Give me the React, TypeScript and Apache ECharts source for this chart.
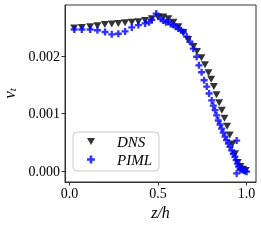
import React, { useEffect, useRef } from "react";
import * as echarts from "echarts";

const dnsZ = [0.027, 0.07, 0.117, 0.158, 0.2, 0.239, 0.276, 0.314, 0.352, 0.389, 0.427, 0.465, 0.5, 0.53, 0.558, 0.587, 0.615, 0.643, 0.67, 0.7, 0.72, 0.745, 0.765, 0.785, 0.8, 0.815, 0.83, 0.845, 0.86, 0.875, 0.89, 0.905, 0.92, 0.935, 0.95, 0.965, 0.98, 0.995];
const dnsNu = [0.00249, 0.0025, 0.00251, 0.00253, 0.00255, 0.00256, 0.00257, 0.00258, 0.00259, 0.0026, 0.00262, 0.00265, 0.00268, 0.00268, 0.00265, 0.00259, 0.00251, 0.00241, 0.00229, 0.00217, 0.00208, 0.00197, 0.00185, 0.00171, 0.0016, 0.00147, 0.00133, 0.00119, 0.00106, 0.00092, 0.00078, 0.00063, 0.00047, 0.0003, 0.00015, 0.00008, 0.00003, 0.00001];

const pimlZ = [0.027, 0.07, 0.117, 0.158, 0.201, 0.239, 0.276, 0.314, 0.352, 0.389, 0.427, 0.45, 0.465, 0.49, 0.515, 0.53, 0.545, 0.558, 0.572, 0.587, 0.6, 0.615, 0.63, 0.643, 0.662, 0.68, 0.699, 0.718, 0.731, 0.746, 0.76, 0.775, 0.788, 0.803, 0.812, 0.822, 0.831, 0.84, 0.85, 0.859, 0.868, 0.878, 0.887, 0.897, 0.906, 0.916, 0.925, 0.934, 0.941, 0.948, 0.955, 0.963, 0.944, 0.944, 0.97, 0.98, 0.99, 1.0, 0.985];
const pimlNu = [0.002464, 0.002464, 0.002464, 0.00245, 0.00242, 0.00238, 0.00239, 0.00243, 0.0025, 0.00254, 0.00257, 0.00259, 0.00263, 0.00274, 0.00265, 0.00262, 0.00259, 0.0026, 0.00256, 0.00254, 0.00251, 0.00248, 0.00245, 0.00242, 0.00234, 0.00225, 0.00213, 0.00199, 0.00184, 0.00172, 0.00158, 0.00147, 0.00135, 0.00123, 0.00114, 0.00106, 0.00097, 0.00088, 0.00081, 0.00074, 0.00067, 0.0006, 0.00054, 0.00048, 0.00042, 0.00036, 0.0003, 0.00025, 0.00019, 0.00013, 0.00008, 0.00004, 0.00053, -0.00004, 0.00002, 0.00003, 0.0, -0.00001, 0.00001];

const xTicks = [0, 0.5, 1.0];
const yTicks = [0, 0.001, 0.002];

const PLUS = "path://M-1,-3L1,-3L1,-1L3,-1L3,1L1,1L1,3L-1,3L-1,1L-3,1L-3,-1L-1,-1Z";
const TRI_DOWN = "path://M0,0L10,0L5,8.66Z";
const SERIF = "'Liberation Serif', 'DejaVu Serif', serif";

export default function App() {
  const ref = useRef<HTMLDivElement>(null);
  useEffect(() => {
    if (!ref.current) return;
    const chart = echarts.init(ref.current, undefined, { renderer: "svg" });
    chart.setOption({
      animation: false,
      grid: {
        left: 65,
        right: 5,
        top: 5,
        bottom: 61,
        outerBoundsMode: "none",
        containLabel: false,
        show: true,
        borderColor: "#333",
        borderWidth: 1,
        backgroundColor: "transparent",
      },
      xAxis: {
        type: "value",
        min: -0.025,
        max: 1.053,
        name: "z/h",
        nameLocation: "middle",
        nameGap: 22,
        nameTextStyle: { fontFamily: SERIF, fontStyle: "italic", fontSize: 16, color: "#000" },
        axisLine: { show: true, onZero: false, lineStyle: { color: "#333", width: 1 } },
        axisTick: { show: true, length: 3.5, customValues: xTicks, lineStyle: { color: "#333" } },
        axisLabel: {
          customValues: xTicks,
          formatter: (v: number) => v.toFixed(1),
          fontFamily: SERIF,
          fontSize: 14,
          color: "#000",
          margin: 4,
        },
        splitLine: { show: false },
      },
      yAxis: {
        type: "value",
        min: -0.00019,
        max: 0.00289,
        name: "{a|ν}{b|t}",
        nameLocation: "middle",
        nameGap: 46,
        nameTextStyle: {
          rich: {
            a: { fontFamily: SERIF, fontStyle: "italic", fontSize: 17, color: "#000" },
            b: { fontFamily: SERIF, fontStyle: "italic", fontSize: 11, color: "#000", verticalAlign: "bottom", padding: [5, 0, 0, 0] },
          },
        },
        axisLine: { show: true, onZero: false, lineStyle: { color: "#333", width: 1 } },
        axisTick: { show: true, length: 3.5, customValues: yTicks, lineStyle: { color: "#333" } },
        axisLabel: {
          customValues: yTicks,
          formatter: (v: number) => v.toFixed(3),
          fontFamily: SERIF,
          fontSize: 14,
          color: "#000",
          margin: 5,
        },
        splitLine: { show: false },
      },
      legend: {
        left: 73,
        top: 132,
        orient: "vertical",
        itemGap: 3,
        itemWidth: 8,
        itemHeight: 8,
        padding: [2, 7, 4, 14],
        borderColor: "#ccc",
        borderWidth: 1,
        borderRadius: 4,
        backgroundColor: "rgba(255,255,255,0.8)",
        textStyle: { fontFamily: SERIF, fontStyle: "italic", fontSize: 15, color: "#000", padding: [0, 0, 0, 17] },
        data: [
          { name: "DNS", icon: TRI_DOWN },
          { name: "PIML", icon: PLUS },
        ],
      },
      series: [
        {
          name: "DNS",
          type: "scatter",
          symbol: TRI_DOWN,
          symbolSize: [8, 7],
          itemStyle: { color: "#000" },
          data: dnsZ.map((z, i) => [z, dnsNu[i]]),
        },
        {
          name: "PIML",
          type: "scatter",
          symbol: PLUS,
          symbolSize: 7,
          itemStyle: { color: "#0000ff" },
          data: pimlZ.map((z, i) => [z, pimlNu[i]]),
        },
      ],
    });
    return () => chart.dispose();
  }, []);
  return <div ref={ref} style={{ position: "fixed", left: 0, top: 0, width: 261, height: 243 }} />;
}
